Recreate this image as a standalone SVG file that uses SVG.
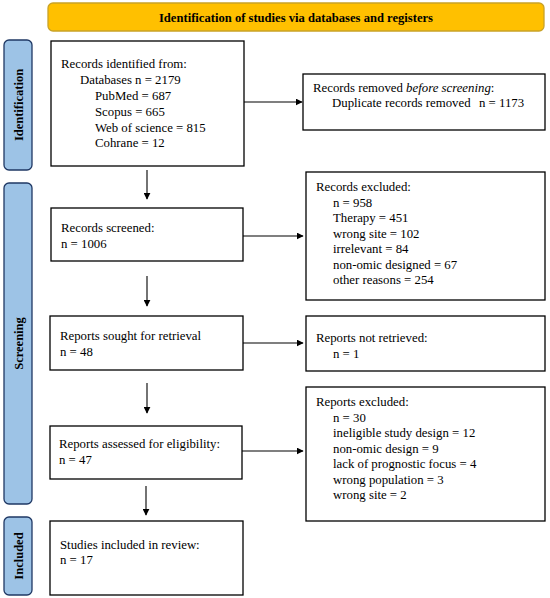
<svg xmlns="http://www.w3.org/2000/svg" width="550" height="598" viewBox="0 0 550 598">
<defs>
<marker id="ah" viewBox="0 0 10 10" refX="9" refY="5" markerWidth="7" markerHeight="7" markerUnits="userSpaceOnUse" orient="auto"><path d="M0,0 L10,5 L0,10 z" fill="#000"/></marker>
</defs>
<style>
.box{fill:#fff;stroke:#000;stroke-width:1.3}
.side{fill:#9DC3E6;stroke:#1F3864;stroke-width:1.3}
.ban{fill:#FFC000;stroke:#C9A227;stroke-width:1.3}
.t{font-family:"Liberation Serif",serif;font-size:12.8px;fill:#000}
.bt{font-family:"Liberation Serif",serif;font-size:12.6px;font-weight:bold;fill:#000}
.st{font-family:"Liberation Serif",serif;font-size:12.5px;font-weight:bold;fill:#000}
.c{stroke:#000;stroke-width:1.1;fill:none;marker-end:url(#ah)}
</style>
<rect width="550" height="598" fill="#fff"/>
<g id="banner">
<rect class="ban" x="48" y="3" width="496" height="28" rx="5"/>
<text class="bt" x="296" y="22" text-anchor="middle">Identification of studies via databases and registers</text>
</g>
<g id="side-identification">
<rect class="side" x="4" y="40" width="28" height="130" rx="5"/>
<text class="st" transform="translate(22.5,105) rotate(-90)" text-anchor="middle">Identification</text>
</g>
<g id="side-screening">
<rect class="side" x="4" y="183" width="28" height="321" rx="5"/>
<text class="st" transform="translate(22.5,343.5) rotate(-90)" text-anchor="middle">Screening</text>
</g>
<g id="side-included">
<rect class="side" x="4" y="517" width="28" height="78" rx="5"/>
<text class="st" transform="translate(22.5,556) rotate(-90)" text-anchor="middle">Included</text>
</g>
<g id="records-identified">
<rect class="box" x="51" y="41" width="193" height="125"/>
<text class="t" x="61" y="68">Records identified from:</text>
<text class="t" x="80" y="84">Databases n = 2179</text>
<text class="t" x="95" y="100">PubMed = 687</text>
<text class="t" x="95" y="116">Scopus = 665</text>
<text class="t" x="95" y="131.5">Web of science = 815</text>
<text class="t" x="95" y="147">Cohrane = 12</text>
</g>
<g id="records-removed">
<rect class="box" x="303" y="74" width="242" height="56"/>
<text class="t" x="313" y="92">Records removed <tspan font-style="italic">before screening</tspan>:</text>
<text class="t" x="332" y="107">Duplicate records removed</text>
<text class="t" x="479" y="107">n = 1173</text>
</g>
<g id="records-screened">
<rect class="box" x="51" y="208" width="192" height="53"/>
<text class="t" x="61" y="232">Records screened:</text>
<text class="t" x="61" y="247.5">n = 1006</text>
</g>
<g id="records-excluded">
<rect class="box" x="306" y="172" width="239" height="128"/>
<text class="t" x="316" y="191">Records excluded:</text>
<text class="t" x="333" y="206.5">n = 958</text>
<text class="t" x="333" y="222">Therapy = 451</text>
<text class="t" x="333" y="237.5">wrong site = 102</text>
<text class="t" x="333" y="253">irrelevant = 84</text>
<text class="t" x="333" y="268.5">non-omic designed = 67</text>
<text class="t" x="333" y="284">other reasons = 254</text>
</g>
<g id="reports-sought">
<rect class="box" x="50" y="316" width="193" height="54"/>
<text class="t" x="60" y="340">Reports sought for retrieval</text>
<text class="t" x="60" y="356">n = 48</text>
</g>
<g id="reports-not-retrieved">
<rect class="box" x="306" y="316" width="239" height="55"/>
<text class="t" x="316" y="342">Reports not retrieved:</text>
<text class="t" x="333" y="357.5">n = 1</text>
</g>
<g id="reports-excluded">
<rect class="box" x="306" y="387" width="239" height="134"/>
<text class="t" x="316" y="406">Reports excluded:</text>
<text class="t" x="333" y="421.5">n = 30</text>
<text class="t" x="333" y="437">ineligible study design = 12</text>
<text class="t" x="333" y="452.5">non-omic design = 9</text>
<text class="t" x="333" y="468">lack of prognostic focus = 4</text>
<text class="t" x="333" y="483.5">wrong population = 3</text>
<text class="t" x="333" y="499">wrong site = 2</text>
</g>
<g id="reports-assessed">
<rect class="box" x="50" y="426" width="192" height="53"/>
<text class="t" x="59" y="448">Reports assessed for eligibility:</text>
<text class="t" x="59" y="463.5">n = 47</text>
</g>
<g id="studies-included">
<rect class="box" x="50" y="521" width="193" height="74"/>
<text class="t" x="60" y="549">Studies included in review:</text>
<text class="t" x="60" y="564">n = 17</text>
</g>
<g id="connectors">
<line class="c" x1="244" y1="102" x2="302" y2="102"/>
<line class="c" x1="243" y1="236" x2="303" y2="236"/>
<line class="c" x1="243" y1="343" x2="303" y2="343"/>
<line class="c" x1="242" y1="451" x2="303" y2="451"/>
<line class="c" x1="147" y1="170" x2="147" y2="199"/>
<line class="c" x1="147" y1="276" x2="147" y2="306"/>
<line class="c" x1="147" y1="383" x2="147" y2="413"/>
<line class="c" x1="146" y1="486" x2="146" y2="515"/>
</g>
</svg>
